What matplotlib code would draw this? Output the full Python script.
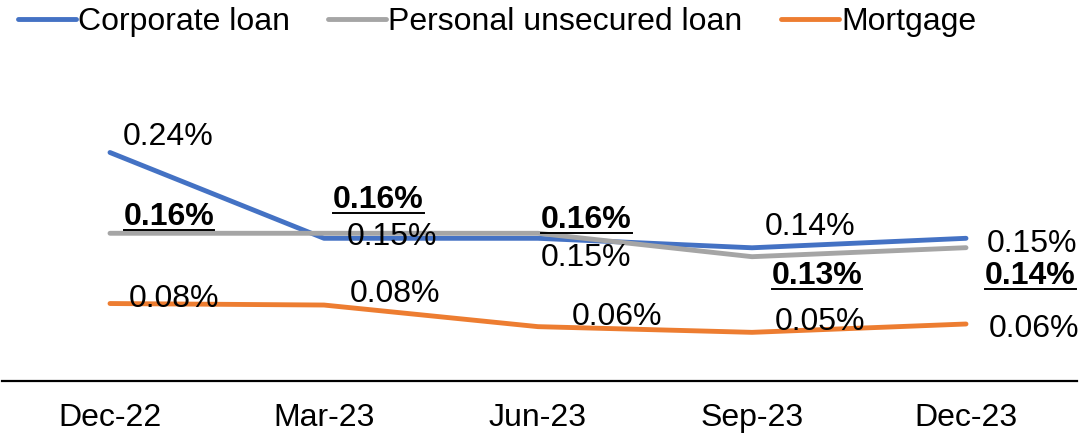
import matplotlib
matplotlib.use('Agg')
import matplotlib.pyplot as plt
from matplotlib.lines import Line2D
from matplotlib.transforms import IdentityTransform

plt.rcParams['font.family'] = ['Liberation Sans', 'DejaVu Sans']

# ---------------------------------------------------------------------------
# Data (ratios in %)
# ---------------------------------------------------------------------------
quarters = ['Dec-22', 'Mar-23', 'Jun-23', 'Sep-23', 'Dec-23']
corporate = [0.2405, 0.1500, 0.1500, 0.1400, 0.1500]
personal = [0.1553, 0.1553, 0.1553, 0.1306, 0.1401]
mortgage = [0.0812, 0.0796, 0.0568, 0.0508, 0.0596]

series_names = ['Corporate loan', 'Personal unsecured loan', 'Mortgage']

# ---------------------------------------------------------------------------
# Style
# ---------------------------------------------------------------------------
BLUE = '#4472C4'
GRAY = '#A5A5A5'
ORANGE = '#ED7D31'
FS = 23
LW = 3.5

# label offsets (pixels right / pixels down from the point, baseline)
corp_off = [(58, -7.5), (68.5, 6.7), (47.5, 27.7), (58, -12.7), (66.5, 13.7)]
pers_off = [(59, -8.3), (54.5, -25.3), (48.5, -5.3), (65, 27.3), (64.5, 36.3)]
mort_off = [(64.5, 3.5), (71, -3), (79, -1.7), (67.5, -2.3), (67.5, 13)]

W, H = 1082, 434
fig = plt.figure(figsize=(W / 100, H / 100), dpi=100)

zero_px = 380.5
px_per_unit = 948.0
ymax = 0.30
ax_h = ymax * px_per_unit
ax = fig.add_axes([2 / W, (H - zero_px) / H, 1075 / W, ax_h / H])

x = list(range(len(quarters)))
ax.plot(x, corporate, color=BLUE, lw=LW, solid_capstyle='round', zorder=2,
        label=series_names[0])
ax.plot(x, personal, color=GRAY, lw=LW, solid_capstyle='round', zorder=3,
        label=series_names[1])
ax.plot(x, mortgage, color=ORANGE, lw=LW, solid_capstyle='round', zorder=4,
        label=series_names[2])

ax.set_xlim(-108 / 214, 4 + 111 / 214)
ax.set_ylim(0, ymax)

for s in ['top', 'left', 'right']:
    ax.spines[s].set_visible(False)
ax.spines['bottom'].set_linewidth(1.6)
ax.spines['bottom'].set_color('black')
ax.set_yticks([])
ax.set_xticks(x)
ax.set_xticklabels(quarters, fontsize=FS)
ax.tick_params(axis='x', length=0, pad=16)


def add_labels(values, offsets, bold=False):
    texts = []
    for i, (v, (dx, dy)) in enumerate(zip(values, offsets)):
        t = ax.annotate(f'{v:.2f}%', xy=(i, v), xytext=(dx, -dy),
                        textcoords='offset pixels', ha='center', va='baseline',
                        fontsize=FS, fontweight='bold' if bold else 'normal',
                        color='black', zorder=6, annotation_clip=False)
        texts.append((t, i, v, dx, dy))
    return texts


add_labels(corporate, corp_off)
bold_texts = add_labels(personal, pers_off, bold=True)
add_labels(mortgage, mort_off)

leg = fig.legend(loc='center left', bbox_to_anchor=(18 / W, 1 - 22 / H),
                 ncol=3, frameon=False, fontsize=FS, handlelength=1.8,
                 handletextpad=0.08, columnspacing=1.2, borderpad=0,
                 borderaxespad=0)

# underline the bold labels
fig.canvas.draw()
renderer = fig.canvas.get_renderer()
for t, i, v, dx, dy in bold_texts:
    bb = t.get_window_extent(renderer)
    bx, by = ax.transData.transform((i, v))
    base_y = by - dy
    uy = base_y - 5
    fig.add_artist(Line2D([bb.x0, bb.x1], [uy, uy], color='black', lw=1.4,
                          transform=IdentityTransform(), zorder=7))

fig.savefig('out.png', dpi=100)
